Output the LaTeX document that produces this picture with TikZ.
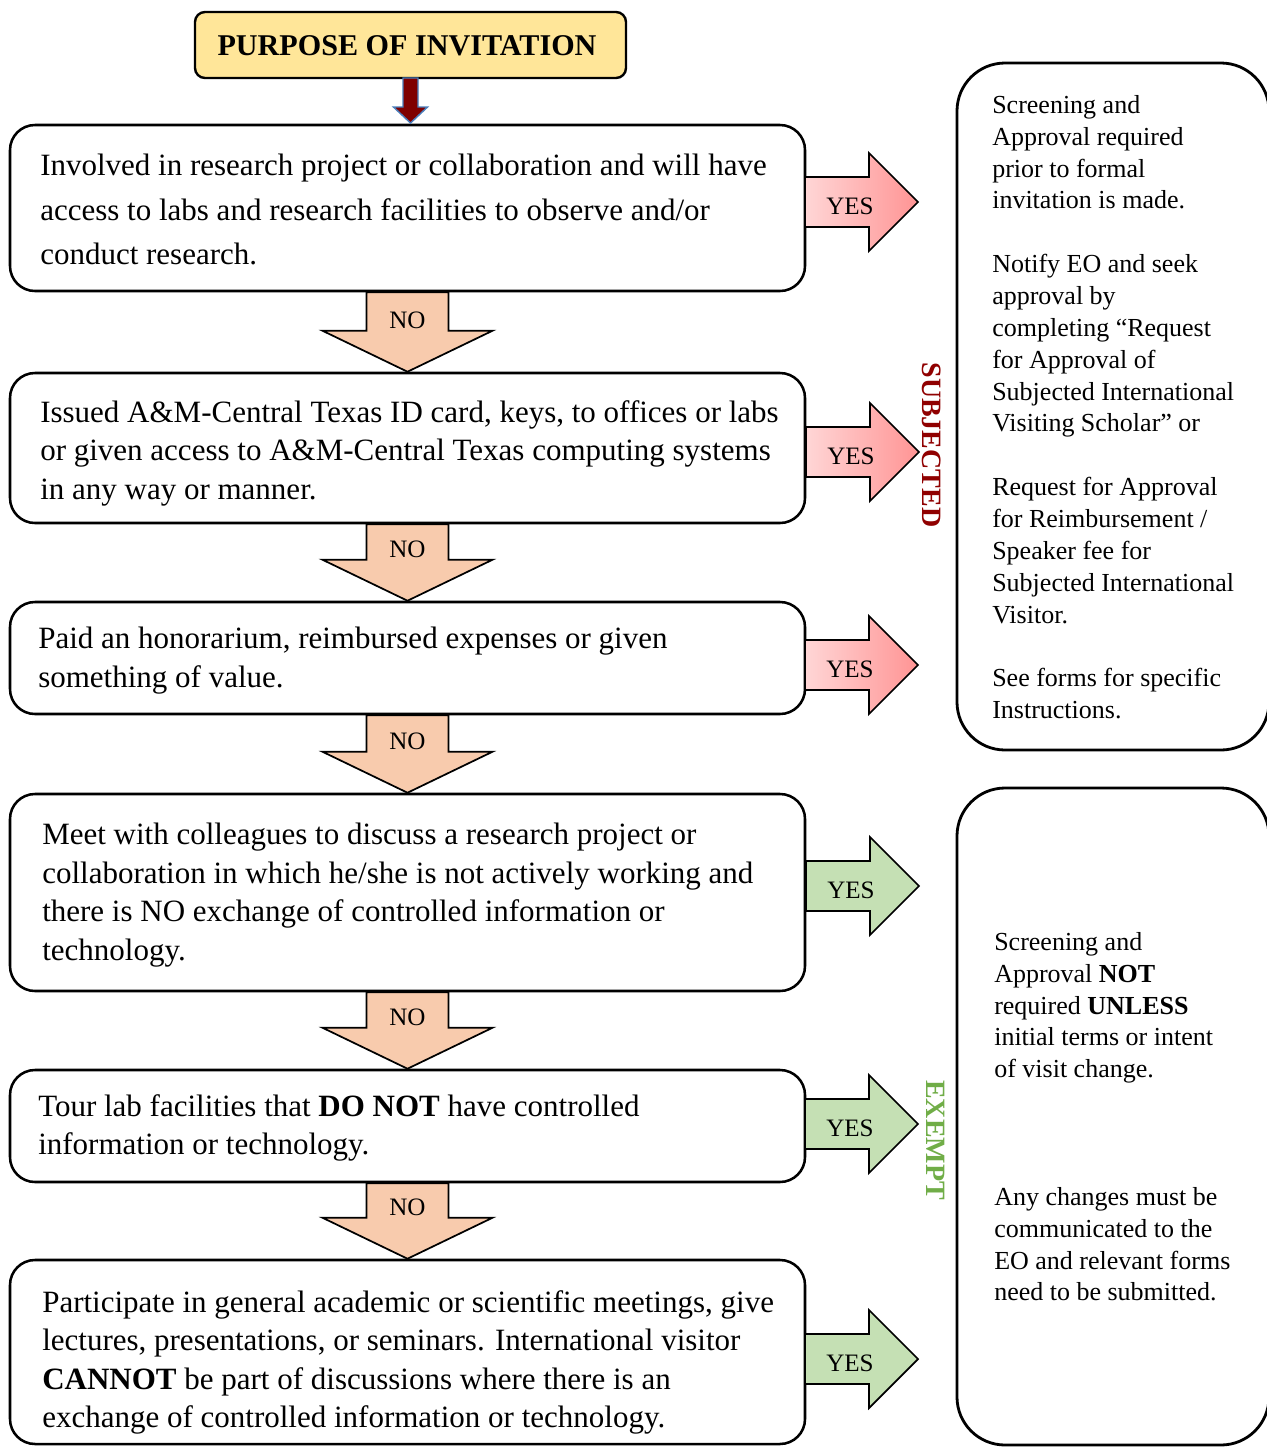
\documentclass[tikz,border=0pt]{standalone}
\usepackage{fontspec}
\setmainfont{Liberation Serif}
\usetikzlibrary{fit,calc}
\definecolor{titlefill}{HTML}{FFE699}
\definecolor{darkarrow}{HTML}{7F0000}
\definecolor{bluerim}{HTML}{4A7EBB}
\definecolor{nofill}{HTML}{F8CBAD}
\definecolor{yesgreen}{HTML}{C5E0B4}
\definecolor{yesredL}{HTML}{FFD6D6}
\definecolor{yesredR}{HTML}{FF9494}
\definecolor{subjcol}{HTML}{900000}
\definecolor{exemptcol}{HTML}{70AD47}
\tikzset{
  lbox/.style={draw=black, line width=1.9pt, rounded corners=18.75pt, fill=white, inner sep=0pt},
  rbox/.style={draw=black, line width=2.1pt, rounded corners=36pt, fill=white, inner sep=0pt},
  titlebox/.style={draw=black, line width=1.8pt, rounded corners=7.5pt, fill=titlefill, inner sep=0pt},
  ltext/.style={inner sep=0pt, anchor=north west, align=left, font=\fontsize{23.25pt}{28.9pt}\selectfont},
  rtext/.style={inner sep=0pt, anchor=north west, align=left, font=\fontsize{19.5pt}{23.9pt}\selectfont},
  noarrow/.style={draw=black, line width=1.3pt, fill=nofill, line join=miter},
  yesred/.style={draw=black, line width=1.3pt, left color=yesredL, right color=yesredR, line join=miter},
  yesgrn/.style={draw=black, line width=1.3pt, fill=yesgreen, line join=miter},
  lbl/.style={inner sep=0pt, font=\fontsize{18.8pt}{20pt}\selectfont},
  sidelbl/.style={inner sep=0pt, rotate=-90, font=\fontsize{21pt}{22pt}\selectfont\bfseries},
}
\newcommand\noarr[3]{%
  \draw[noarrow] ($(#1.south)+(-41,0)$) -- ($(#1.south)+(41,0)$) -- ($(#2.north)+(41,-41)$) -- ($(#2.north)+(85,-41)$) -- (#2.north) -- ($(#2.north)+(-85,-41)$) -- ($(#2.north)+(-41,-41)$) -- cycle;
  \node[lbl] (#3) at ($(#2.north)+(0,-51)$) {NO};
}
\newcommand\yesarr[3]{%
  \draw[#2] ($(#1)+(0,-25)$) -- ($(#1)+(64,-25)$) -- ($(#1)+(64,-49)$) -- ($(#1)+(113,0)$) -- ($(#1)+(64,49)$) -- ($(#1)+(64,25)$) -- ($(#1)+(0,25)$) -- cycle;
  \node[lbl] (#3) at ($(#1)+(45,4)$) {YES};
}
\begin{document}
\begin{tikzpicture}[x=0.75pt,y=-0.75pt]
\useasboundingbox (0,0) rectangle (1267,1447);
\fill[white] (0,0) rectangle (1267,1447);

% title
\node[titlebox, fit={(195,12) (626,78)}] (title) {};
\node[inner sep=0pt, font=\fontsize{22.6pt}{24pt}\selectfont\bfseries] (titletext) at (407,46) {PURPOSE OF INVITATION};

% left boxes
\node[lbox, fit={(10,125) (805,291)}] (b1) {};
\node[lbox, fit={(10,373) (805,523)}] (b2) {};
\node[lbox, fit={(10,602) (805,714)}] (b3) {};
\node[lbox, fit={(10,794) (805,991)}] (b4) {};
\node[lbox, fit={(10,1070) (805,1182)}] (b5) {};
\node[lbox, fit={(10,1260) (805,1444)}] (b6) {};

% dark red arrow from title to first box
\coordinate (ta) at (410.5,78);
\coordinate (tb) at (410.5,123);
\draw[draw=bluerim, line width=1.1pt, fill=darkarrow, line join=miter]
  ($(ta)+(-7.5,0)$) -- ($(ta)+(7.5,0)$) -- ($(tb)+(7.5,-16)$) -- ($(tb)+(17,-16)$) -- (tb) -- ($(tb)+(-17,-16)$) -- ($(tb)+(-7.5,-16)$) -- cycle;

% texts in left boxes
\node[ltext, font=\fontsize{23.25pt}{33.4pt}\selectfont] (t1) at (40,154) {Involved in research project or collaboration and will have\\access to labs and research facilities to observe and/or\\conduct research.};
\node[ltext] (t2) at (40,400) {Issued A\&M-Central Texas ID card, keys, to offices or labs\\or given access to A\&M-Central Texas computing systems\\in any way or manner.};
\node[ltext] (t3) at (38,627) {Paid an honorarium, reimbursed expenses or given\\something of value.};
\node[ltext] (t4) at (42,823) {Meet with colleagues to discuss a research project or\\collaboration in which he/she is not actively working and\\there is NO exchange of controlled information or\\technology.};
\node[ltext] (t5) at (38,1094) {Tour lab facilities that \textbf{DO NOT} have controlled\\information or technology.};
\node[ltext] (t6) at (42,1290) {Participate in general academic or scientific meetings, give\\lectures, presentations, or seminars. International visitor\\\textbf{CANNOT} be part of discussions where there is an\\exchange of controlled information or technology.};

% NO arrows
\noarr{b1}{b2}{no1}
\noarr{b2}{b3}{no2}
\noarr{b3}{b4}{no3}
\noarr{b4}{b5}{no4}
\noarr{b5}{b6}{no5}

% right boxes
\node[rbox, fit={(957,63) (1269,750)}] (ra) {};
\node[rbox, fit={(957,788) (1269,1445)}] (rb) {};

\node[rtext] (ta1) at (992,95) {Screening and\\Approval required\\prior to formal\\invitation is made.\\ \mbox{}\\Notify EO and seek\\approval by\\completing “Request\\for Approval of\\Subjected International\\Visiting Scholar” or\\ \mbox{}\\Request for Approval\\for Reimbursement /\\Speaker fee for\\Subjected International\\Visitor.\\ \mbox{}\\See forms for specific\\Instructions.};
\node[rtext] (tb1) at (994,932) {Screening and\\Approval \textbf{NOT}\\required \textbf{UNLESS}\\initial terms or intent\\of visit change.};
\node[rtext] (tb2) at (994,1187) {Any changes must be\\communicated to the\\EO and relevant forms\\need to be submitted.};

% YES arrows
\coordinate (y1) at (805,202);
\coordinate (y2) at (806,452);
\coordinate (y3) at (805,665);
\coordinate (y4) at (806,886);
\coordinate (y5) at (805,1124);
\coordinate (y6) at (805,1359);
\yesarr{y1}{yesred}{yes1}
\yesarr{y2}{yesred}{yes2}
\yesarr{y3}{yesred}{yes3}
\yesarr{y4}{yesgrn}{yes4}
\yesarr{y5}{yesgrn}{yes5}
\yesarr{y6}{yesgrn}{yes6}

% side labels
\node[sidelbl, text=subjcol] (subj) at (932,445) {SUBJECTED};
\node[sidelbl, text=exemptcol] (exempt) at (936,1140) {EXEMPT};
\end{tikzpicture}
\end{document}
